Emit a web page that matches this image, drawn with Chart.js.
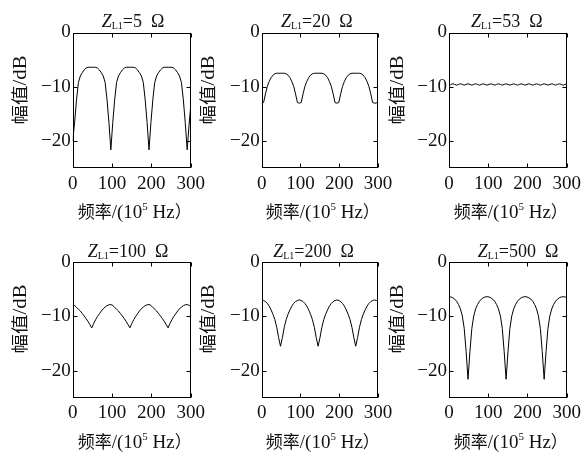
<!DOCTYPE html>
<html>
<head>
<meta charset="utf-8">
<script src="https://cdn.jsdelivr.net/npm/chart.js@4.4.1/dist/chart.umd.min.js"></script>
<style>
  html, body { margin: 0; padding: 0; background: #fff; }
  #wrap { position: relative; width: 585px; height: 460px; overflow: hidden; }
  #wrap canvas { position: absolute; left: 0; top: 0; }
</style>
</head>
<body>
<div id="wrap"></div>
<script>
// frequency axis, in units of 10^5 Hz
const freq = [0, 4.85, 9.7, 14.55, 19.4, 24.25, 29.1, 33.95, 38.8, 43.65, 48.5, 53.35, 58.2, 63.05, 67.9, 72.75,
  77.6, 82.45, 87.3, 92.15, 97, 101.85, 106.7, 111.55, 116.4, 121.25, 126.1, 130.95, 135.8, 140.65, 145.5,
  150.35, 155.2, 160.05, 164.9, 169.75, 174.6, 179.45, 184.3, 189.15, 194, 198.85, 203.7, 208.55, 213.4,
  218.25, 223.1, 227.95, 232.8, 237.65, 242.5, 247.35, 252.2, 257.05, 261.9, 266.75, 271.6, 276.45, 281.3,
  286.15, 291, 295.85, 300.7];

// amplitude in dB, one list per load impedance
const amp5 = [-20.0,
  -16.6, -12.4, -9.2, -8.0, -7.4, -6.9, -6.55, -6.4, -6.4, -6.4, -6.4, -6.4, -6.55, -6.9, -7.4, -8.0, -9.2, -12.4, -16.6,
  -21.6,
  -16.6, -12.4, -9.2, -8.0, -7.4, -6.9, -6.55, -6.4, -6.4, -6.4, -6.4, -6.4, -6.55, -6.9, -7.4, -8.0, -9.2, -12.4, -16.6,
  -21.6,
  -16.6, -12.4, -9.2, -8.0, -7.4, -6.9, -6.55, -6.4, -6.4, -6.4, -6.4, -6.4, -6.55, -6.9, -7.4, -8.0, -9.2, -12.4, -16.6,
  -21.6, -17.0, -13.0];

const amp20 = [-13.0,
  -12.9, -11.3, -9.9, -9.0, -8.3, -7.85, -7.6, -7.5, -7.5, -7.5, -7.5, -7.5, -7.6, -7.85, -8.3, -9.0, -9.9, -11.3, -12.9,
  -13.0,
  -12.9, -11.3, -9.9, -9.0, -8.3, -7.85, -7.6, -7.5, -7.5, -7.5, -7.5, -7.5, -7.6, -7.85, -8.3, -9.0, -9.9, -11.3, -12.9,
  -13.0,
  -12.9, -11.3, -9.9, -9.0, -8.3, -7.85, -7.6, -7.5, -7.5, -7.5, -7.5, -7.5, -7.6, -7.85, -8.3, -9.0, -9.9, -11.3, -12.9,
  -13.0, -13.0, -12.6];

const amp53 = [-9.9,
  -9.55, -9.45, -9.55, -9.7, -9.55, -9.45, -9.55, -9.7, -9.55, -9.45, -9.55, -9.7,
  -9.55, -9.45, -9.55, -9.7, -9.55, -9.45, -9.55, -9.7, -9.55, -9.45, -9.55, -9.7,
  -9.55, -9.45, -9.55, -9.7, -9.55, -9.45, -9.55, -9.7, -9.55, -9.45, -9.55, -9.7,
  -9.55, -9.45, -9.55, -9.7, -9.55, -9.45, -9.55, -9.7, -9.55, -9.45, -9.55, -9.7,
  -9.55, -9.45, -9.55, -9.7, -9.55, -9.45, -9.55, -9.7, -9.55, -9.45, -9.55, -9.7,
  -9.55, -9.45];

const amp100 = [-7.9,
  -7.95, -8.35, -8.65, -9.0, -9.45, -9.9, -10.4, -10.9, -11.5, -12.1,
  -11.3, -10.6, -10.0, -9.5, -9.0, -8.6, -8.25, -8.0, -7.85, -7.8,
  -7.95, -8.35, -8.65, -9.0, -9.45, -9.9, -10.4, -10.9, -11.5, -12.1,
  -11.3, -10.6, -10.0, -9.5, -9.0, -8.6, -8.25, -8.0, -7.85, -7.8,
  -7.95, -8.35, -8.65, -9.0, -9.45, -9.9, -10.4, -10.9, -11.5, -12.1,
  -11.3, -10.6, -10.0, -9.5, -9.0, -8.6, -8.25, -8.0, -7.85, -7.8,
  -7.95, -8.15];

const amp200 = [-6.95,
  -7.05, -7.25, -7.6, -8.1, -8.8, -9.6, -10.6, -12.0, -13.9, -15.5,
  -13.9, -12.0, -10.6, -9.6, -8.8, -8.1, -7.6, -7.25, -7.05, -6.95,
  -7.05, -7.25, -7.6, -8.1, -8.8, -9.6, -10.6, -12.0, -13.9, -15.5,
  -13.9, -12.0, -10.6, -9.6, -8.8, -8.1, -7.6, -7.25, -7.05, -6.95,
  -7.05, -7.25, -7.6, -8.1, -8.8, -9.6, -10.6, -12.0, -13.9, -15.5,
  -13.9, -12.0, -10.6, -9.6, -8.8, -8.1, -7.6, -7.25, -7.05, -6.95,
  -7.05, -7.25];

const amp500 = [-6.35,
  -6.4, -6.55, -6.8, -7.2, -7.8, -8.6, -9.9, -12.2, -16.5, -21.6,
  -16.5, -12.2, -9.9, -8.6, -7.8, -7.2, -6.8, -6.55, -6.4, -6.35,
  -6.4, -6.55, -6.8, -7.2, -7.8, -8.6, -9.9, -12.2, -16.5, -21.6,
  -16.5, -12.2, -9.9, -8.6, -7.8, -7.2, -6.8, -6.55, -6.4, -6.35,
  -6.4, -6.55, -6.8, -7.2, -7.8, -8.6, -9.9, -12.2, -16.5, -21.6,
  -16.5, -12.2, -9.9, -8.6, -7.8, -7.2, -6.8, -6.55, -6.4, -6.35,
  -6.4, -6.55];

const loads = ['5', '20', '53', '100', '200', '500'];
const xTicks = [0, 100, 200, 300];
const yTicks = [0, -10, -20];

const series = [amp5, amp20, amp53, amp100, amp200, amp500];

const frames = [
  {left: 72.7, right: 190.7, top: 32.5, bottom: 168.3, titleX: 133, titleY: 27, xlabY: 218, ylabX: 20, ylabY: 90},
  {left: 261.7, right: 378, top: 32.5, bottom: 168.3, titleX: 316.7, titleY: 27, xlabY: 218, ylabX: 208.3, ylabY: 90},
  {left: 449, right: 566.7, top: 32.5, bottom: 168.3, titleX: 506.7, titleY: 27, xlabY: 218, ylabX: 396.7, ylabY: 90},
  {left: 72.7, right: 190.7, top: 262.3, bottom: 397.7, titleX: 128, titleY: 257, xlabY: 448, ylabX: 20, ylabY: 319},
  {left: 261.7, right: 378, top: 262.3, bottom: 397.7, titleX: 313.5, titleY: 257, xlabY: 448, ylabX: 208, ylabY: 319},
  {left: 449, right: 566.7, top: 262.3, bottom: 397.7, titleX: 518, titleY: 257, xlabY: 448, ylabX: 396.7, ylabY: 319}
];

const SERIF = '"Liberation Serif", "Times New Roman", serif';
const CJK = '"Noto Sans CJK SC", sans-serif';
const INK = '#111';

function drawRuns(ctx, parts, cx, y) {
  let w = 0;
  parts.forEach(p => { ctx.font = p.f; w += ctx.measureText(p.t).width; });
  let x = cx - w / 2;
  parts.forEach(p => {
    ctx.font = p.f;
    ctx.fillText(p.t, x, y + (p.dy || 0));
    x += ctx.measureText(p.t).width;
  });
}

const decoPlugin = {
  id: 'deco',
  afterDraw(chart, args, o) {
    const ctx = chart.ctx;
    const xs = chart.scales.x, ys = chart.scales.y;
    const a = chart.chartArea;
    ctx.save();
    ctx.strokeStyle = '#000';
    ctx.lineWidth = 1;
    const l = Math.round(a.left) + 0.5, t = Math.round(a.top) + 0.5;
    const r = Math.round(a.right) - 0.5, b = Math.round(a.bottom) - 0.5;
    ctx.strokeRect(l, t, r - l, b - t);
    ctx.beginPath();
    xs.ticks.forEach(tk => {
      const p = Math.round(xs.getPixelForValue(tk.value)) + 0.5;
      ctx.moveTo(p, b); ctx.lineTo(p, b - 4);
      ctx.moveTo(p, t); ctx.lineTo(p, t + 4);
    });
    ys.ticks.forEach(tk => {
      const p = Math.round(ys.getPixelForValue(tk.value)) + 0.5;
      ctx.moveTo(l, p); ctx.lineTo(l + 4, p);
      ctx.moveTo(r, p); ctx.lineTo(r - 4, p);
    });
    ctx.stroke();

    ctx.fillStyle = INK;
    ctx.textBaseline = 'alphabetic';
    ctx.textAlign = 'left';
    // panel title Z_L1 = ... Ω
    drawRuns(ctx, [
      {t: 'Z', f: 'italic 18px ' + SERIF},
      {t: 'L1', f: '10px ' + SERIF, dy: 2},
      {t: '=' + o.load + '  Ω', f: '18px ' + SERIF}
    ], o.titleX, o.titleY);
    // x axis title
    drawRuns(ctx, [
      {t: '频率', f: '17px ' + CJK},
      {t: '/(10', f: '19px ' + SERIF},
      {t: '5', f: '11px ' + SERIF, dy: -8},
      {t: ' Hz', f: '19px ' + SERIF},
      {t: '）', f: '17px ' + CJK}
    ], (a.left + a.right) / 2 + 3, o.xlabY);
    // y axis title, rotated
    ctx.translate(o.ylabX, o.ylabY);
    ctx.rotate(-Math.PI / 2);
    ctx.scale(1.15, 1);
    drawRuns(ctx, [
      {t: '幅值', f: '17px ' + CJK},
      {t: '/dB', f: '18px ' + SERIF}
    ], 0, 6);
    ctx.restore();
  }
};

const wrap = document.getElementById('wrap');
const minus = v => (v < 0 ? '\u2212' : '') + Math.abs(v);

series.forEach((vals, k) => {
  const fr = frames[k];
  const cv = document.createElement('canvas');
  cv.width = 585;
  cv.height = 460;
  wrap.appendChild(cv);
  new Chart(cv, {
    type: 'line',
    data: {
      datasets: [{
        data: freq.map((f, i) => ({x: f, y: vals[i]})),
        borderColor: '#000',
        borderWidth: 1,
        pointRadius: 0,
        tension: 0,
        fill: false
      }]
    },
    options: {
      responsive: false,
      animation: false,
      devicePixelRatio: 1,
      layout: {padding: {left: 0, top: fr.top, right: 585 - fr.right, bottom: 0}},
      plugins: {
        legend: {display: false},
        tooltip: {enabled: false},
        deco: Object.assign({load: loads[k]}, fr)
      },
      scales: {
        x: {
          type: 'linear', min: 0, max: 300,
          afterBuildTicks: s => { s.ticks = xTicks.map(v => ({value: v})); },
          afterFit: s => { s.height = 460 - fr.bottom; },
          grid: {display: false, drawTicks: false},
          border: {display: false},
          ticks: {color: INK, font: {family: SERIF, size: 19}, padding: 4, maxRotation: 0, autoSkip: false}
        },
        y: {
          min: -25, max: 0,
          afterBuildTicks: s => { s.ticks = yTicks.map(v => ({value: v})); },
          afterFit: s => { s.width = fr.left; },
          grid: {display: false, drawTicks: false},
          border: {display: false},
          ticks: {color: INK, font: {family: SERIF, size: 19}, padding: 2, callback: minus}
        }
      }
    },
    plugins: [decoPlugin]
  });
});
</script>
</body>
</html>
